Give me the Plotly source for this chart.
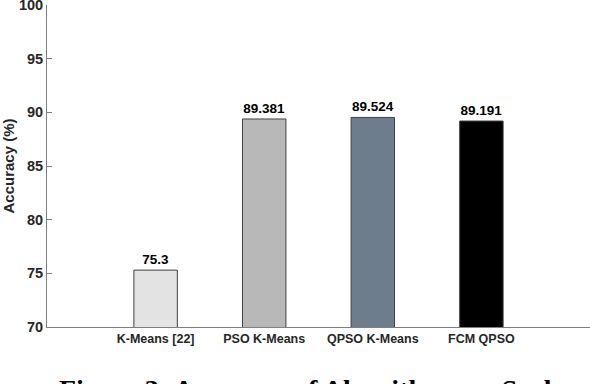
import plotly.graph_objects as go

categories = ["K-Means [22]", "PSO K-Means", "QPSO K-Means", "FCM QPSO"]
accuracy = [75.3, 89.381, 89.524, 89.191]
value_labels = ["75.3", "89.381", "89.524", "89.191"]
bar_colors = ["#e3e3e3", "#b8b8b8", "#6e7d8e", "#000000"]
y_ticks = [70, 75, 80, 85, 90, 95, 100]

fig = go.Figure()
fig.add_trace(go.Bar(
    x=categories, y=accuracy, width=0.4,
    marker=dict(color=bar_colors, line=dict(color="#404040", width=1)),
    text=value_labels, textposition="outside", cliponaxis=False,
    textfont=dict(family="Liberation Sans", size=13.5, color="#000000", weight="bold"),
))

fig.update_layout(
    width=590, height=384,
    margin=dict(l=47, r=0, t=5, b=57, autoexpand=False),
    paper_bgcolor="white", plot_bgcolor="white",
    showlegend=False,
    font=dict(family="Liberation Sans", color="#262626"),
    xaxis=dict(
        type="category", range=[-1, 4], automargin=False,
        showline=True, linecolor="#7f7f7f", linewidth=1,
        ticks="", showgrid=False,
        tickfont=dict(size=12.5, weight="bold", color="#262626"),
    ),
    yaxis=dict(
        range=[70, 100], tickvals=y_ticks, automargin=False,
        ticklabeloverflow="allow",
        showline=True, linecolor="#7f7f7f", linewidth=1,
        ticks="inside", ticklen=5, tickcolor="#7f7f7f",
        showgrid=False, zeroline=False,
        tickfont=dict(size=14.5, weight="bold", color="#262626"),
        title=dict(text="Accuracy (%)", font=dict(size=15, weight="bold", color="#262626"), standoff=6),
    ),
    annotations=[dict(
        text="<b>Figure 3: Accuracy of Algorithms on Scale</b>",
        xref="paper", yref="paper", x=0.0184, y=-0.141,
        xanchor="left", yanchor="top", showarrow=False,
        font=dict(family="Liberation Serif", size=28, color="#000000"),
    )],
)

fig.write_html(
    "out.html",
    config={"displayModeBar": False},
    post_script="document.body.style.margin='0';document.body.style.overflow='hidden';",
)
